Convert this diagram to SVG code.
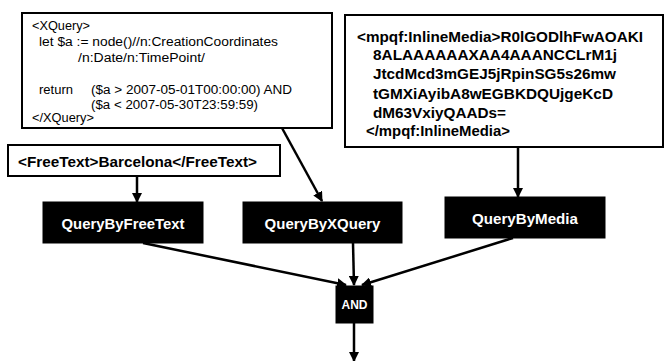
<svg xmlns="http://www.w3.org/2000/svg" width="665" height="361" viewBox="0 0 665 361">
<style>
.box{fill:#fff;stroke:#000;stroke-width:2}
.node{fill:#000;stroke:#000;stroke-width:1}
.code{font-family:"Liberation Sans",Arial,sans-serif;font-size:12.5px;fill:#000}
.bold{font-family:"Liberation Sans",Arial,sans-serif;font-size:15px;font-weight:bold;fill:#000}
.lbl{font-family:"Liberation Sans",Arial,sans-serif;font-size:15px;font-weight:bold;fill:#fff;text-anchor:middle}
.edge{stroke:#000;stroke-width:2.5;fill:none;marker-end:url(#ah)}
</style>
<defs>
<marker id="ah" viewBox="0 0 10 10" refX="9" refY="5" markerWidth="4" markerHeight="4" orient="auto" markerUnits="strokeWidth">
<path d="M0,0 L10,5 L0,10 z" fill="#000"/>
</marker>
</defs>
<rect width="665" height="361" fill="#fff"/>
<g id="xquery">
<rect class="box" x="22" y="13" width="310" height="115"/>
<text class="code" x="32" y="30" textLength="58" lengthAdjust="spacingAndGlyphs">&lt;XQuery&gt;</text>
<text class="code" x="39" y="46" textLength="239" lengthAdjust="spacingAndGlyphs">let $a := node()//n:CreationCoordinates</text>
<text class="code" x="78" y="62" textLength="127" lengthAdjust="spacingAndGlyphs">/n:Date/n:TimePoint/</text>
<text class="code" x="39" y="94" textLength="34" lengthAdjust="spacingAndGlyphs">return</text>
<text class="code" x="91" y="94" textLength="201" lengthAdjust="spacingAndGlyphs">($a &gt; 2007-05-01T00:00:00) AND</text>
<text class="code" x="91" y="109" textLength="167" lengthAdjust="spacingAndGlyphs">($a &lt; 2007-05-30T23:59:59)</text>
<text class="code" x="32" y="122" textLength="62" lengthAdjust="spacingAndGlyphs">&lt;/XQuery&gt;</text>
</g>
<g id="media">
<rect class="box" x="345" y="15" width="318" height="132"/>
<text class="bold" x="357" y="42" textLength="286" lengthAdjust="spacingAndGlyphs">&lt;mpqf:InlineMedia&gt;R0lGODlhFwAOAKI</text>
<text class="bold" x="373" y="60" textLength="244" lengthAdjust="spacingAndGlyphs">8ALAAAAAAXAA4AAANCCLrM1j</text>
<text class="bold" x="373" y="79" textLength="243" lengthAdjust="spacingAndGlyphs">JtcdMcd3mGEJ5jRpinSG5s26mw</text>
<text class="bold" x="373" y="99" textLength="240" lengthAdjust="spacingAndGlyphs">tGMXiAyibA8wEGBKDQUjgeKcD</text>
<text class="bold" x="373" y="118" textLength="133" lengthAdjust="spacingAndGlyphs">dM63VxiyQAADs=</text>
<text class="bold" x="366" y="136" textLength="144" lengthAdjust="spacingAndGlyphs">&lt;/mpqf:InlineMedia&gt;</text>
</g>
<g id="freetext">
<rect class="box" x="8" y="145" width="272" height="31"/>
<text class="bold" x="18" y="167" textLength="239" lengthAdjust="spacingAndGlyphs">&lt;FreeText&gt;Barcelona&lt;/FreeText&gt;</text>
</g>
<g id="qbft">
<rect class="node" x="43" y="202" width="160" height="41"/>
<text class="lbl" x="123" y="228.5" textLength="123" lengthAdjust="spacingAndGlyphs">QueryByFreeText</text>
</g>
<g id="qbxq">
<rect class="node" x="243" y="202" width="159" height="41"/>
<text class="lbl" x="322.5" y="228.5">QueryByXQuery</text>
</g>
<g id="qbm">
<rect class="node" x="445" y="197" width="160" height="41"/>
<text class="lbl" x="525" y="223.5" textLength="106" lengthAdjust="spacingAndGlyphs">QueryByMedia</text>
</g>
<g id="and">
<rect class="node" x="336" y="286" width="37" height="37"/>
<text class="lbl" x="354.5" y="309" style="font-size:13px" textLength="26" lengthAdjust="spacingAndGlyphs">AND</text>
</g>
<g id="connectors">
<line class="edge" x1="137" y1="176" x2="137" y2="202"/>
<line class="edge" x1="282" y1="128" x2="322" y2="201"/>
<line class="edge" x1="518" y1="147" x2="518" y2="197"/>
<line class="edge" x1="143" y1="243" x2="346" y2="285"/>
<line class="edge" x1="353" y1="243" x2="354" y2="285"/>
<line class="edge" x1="513" y1="238" x2="362" y2="285"/>
<line class="edge" x1="354" y1="323" x2="354" y2="361"/>
</g>
</svg>
